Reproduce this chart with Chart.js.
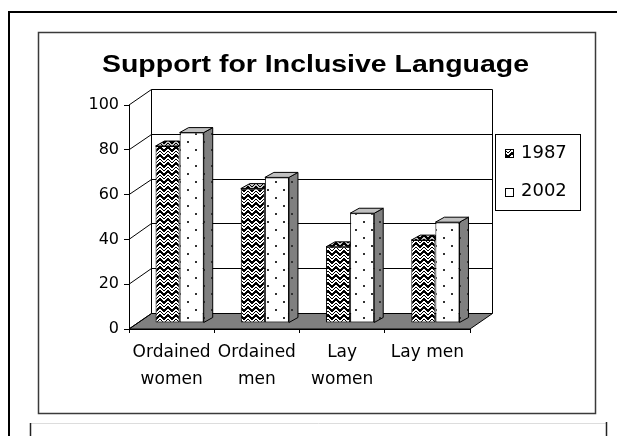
<!DOCTYPE html>
<html>
<head>
<meta charset="utf-8">
<script src="https://cdn.jsdelivr.net/npm/chart.js@4/dist/chart.umd.min.js"></script>
<style>
  html, body { margin: 0; padding: 0; background: #fff; overflow: hidden; }
  canvas { display: block; }
</style>
</head>
<body>
<canvas id="chart" width="617" height="436"></canvas>
<script>
// Chart data
const chartTitle = 'Support for Inclusive Language';
const categories = [['Ordained', 'women'], ['Ordained', 'men'], ['Lay', 'women'], 'Lay men'];
const seriesLabels = ['1987', '2002'];
const values1987 = [79, 60, 34, 37];
const values2002 = [85, 65, 49, 45];
const yMax = 100;
const yStep = 20;

// 3D look (oblique projection offsets)
const DEPTH = { x: 22, y: -16 };      // floor / side wall depth
const BAR_SHIFT = { x: 8, y: -6 };    // bars sit a bit behind the front edge
const BAR_DEPTH = { x: 9, y: -5 };    // thickness of each bar

const FONT = "'DejaVu Sans', sans-serif";
Chart.defaults.font.family = FONT;
Chart.defaults.color = '#000';

const canvas = document.getElementById('chart');
const mainCtx = canvas.getContext('2d');

// Excel-like fill patterns
function zigzagPattern(bg) {
    const c = document.createElement('canvas');
    c.width = 8; c.height = 8;
    const g = c.getContext('2d');
    g.fillStyle = bg;
    g.fillRect(0, 0, 8, 8);
    g.fillStyle = '#000';
    for (let x = 0; x < 8; x++) {
        const off = x < 4 ? x : 7 - x;
        for (let y = 0; y < 8; y++) {
            const k = ((y - off) % 8 + 8) % 8;
            if (k < 3 || k === 5) g.fillRect(x, y, 1, 1);
        }
    }
    return mainCtx.createPattern(c, 'repeat');
}

function dotPattern(bg) {
    const c = document.createElement('canvas');
    c.width = 16; c.height = 16;
    const g = c.getContext('2d');
    g.fillStyle = bg;
    g.fillRect(0, 0, 16, 16);
    g.fillStyle = '#333';
    g.fillRect(3, 3, 2, 2);
    g.fillRect(11, 11, 2, 2);
    return mainCtx.createPattern(c, 'repeat');
}

const fronts = [zigzagPattern('#fff'), dotPattern('#fff')];
const caps = [zigzagPattern('#c8c8c8'), '#c0c0c0'];
const sides = [zigzagPattern('#808080'), dotPattern('#808080')];

function crisp(v) {
    return Math.round(v) + 0.5;
}

function poly(ctx, pts) {
    ctx.beginPath();
    ctx.moveTo(pts[0][0], pts[0][1]);
    for (let i = 1; i < pts.length; i++) ctx.lineTo(pts[i][0], pts[i][1]);
    ctx.closePath();
    ctx.fill();
    ctx.stroke();
}

const excel3d = {
    id: 'excel3d',
    beforeDraw(chart) {
        const { ctx, chartArea: a } = chart;
        const y = chart.scales.y;
        ctx.save();
        ctx.fillStyle = '#fff';
        ctx.fillRect(0, 0, chart.width, chart.height);

        // page frames
        ctx.strokeStyle = '#000';
        ctx.lineWidth = 2;
        ctx.beginPath();
        ctx.moveTo(9, 436); ctx.lineTo(9, 12); ctx.lineTo(617, 12);
        ctx.stroke();
        ctx.strokeStyle = '#3a3a3a';
        ctx.lineWidth = 1.5;
        ctx.strokeRect(38.5, 32.5, 557, 381);
        ctx.strokeStyle = '#ddd';
        ctx.lineWidth = 1;
        ctx.beginPath();
        ctx.moveTo(31, 423.5); ctx.lineTo(606, 423.5);
        ctx.stroke();
        ctx.strokeStyle = '#222';
        ctx.lineWidth = 1.5;
        ctx.beginPath();
        ctx.moveTo(30.5, 436); ctx.lineTo(30.5, 423);
        ctx.moveTo(606.5, 436); ctx.lineTo(606.5, 422);
        ctx.stroke();

        // title, widened like the stretched original
        ctx.font = "bold 24px 'Liberation Sans', Arial, sans-serif";
        ctx.fillStyle = '#000';
        ctx.textBaseline = 'alphabetic';
        const tw = ctx.measureText(chartTitle).width;
        ctx.save();
        ctx.translate(102, 72);
        ctx.scale(427 / tw, 1);
        ctx.fillText(chartTitle, 0, 0);
        ctx.restore();

        // floor, back wall, side wall lines
        const y0 = y.getPixelForValue(0);
        const yT = y.getPixelForValue(yMax);
        const bl = crisp(a.left + DEPTH.x), br = crisp(a.right + DEPTH.x);
        ctx.lineWidth = 1;
        ctx.strokeStyle = '#000';
        ctx.fillStyle = '#808080';
        poly(ctx, [[a.left, y0], [bl, crisp(y0 + DEPTH.y)], [br, crisp(y0 + DEPTH.y)], [a.right, y0]]);
        ctx.beginPath();
        ctx.moveTo(bl, crisp(y0 + DEPTH.y)); ctx.lineTo(bl, crisp(yT + DEPTH.y));
        ctx.moveTo(br, crisp(y0 + DEPTH.y)); ctx.lineTo(br, crisp(yT + DEPTH.y));
        ctx.stroke();
        y.ticks.forEach(t => {
            const py = y.getPixelForValue(t.value);
            const by = crisp(py + DEPTH.y);
            ctx.beginPath();
            ctx.moveTo(a.left, py);
            ctx.lineTo(bl, by);
            if (t.value > 0) ctx.lineTo(br, by);
            ctx.stroke();
        });
        ctx.restore();
    },
    beforeDatasetsDraw(chart) {
        chart.ctx.save();
        chart.ctx.translate(BAR_SHIFT.x, BAR_SHIFT.y);
    },
    afterDatasetDraw(chart, args) {
        // datasets are drawn last-to-first, so a bar with a neighbour on its
        // right only shows the part of its top that the neighbour does not hide
        const ctx = chart.ctx;
        const i = args.index;
        const hidden = i < chart.data.datasets.length - 1;
        ctx.save();
        ctx.lineWidth = 1;
        ctx.strokeStyle = '#000';
        args.meta.data.forEach(bar => {
            const { x, y, base, width } = bar.getProps(['x', 'y', 'base', 'width'], true);
            const l = x - width / 2, r = x + width / 2;
            if (!hidden) {
                ctx.fillStyle = sides[i];
                poly(ctx, [[r, y], [r + BAR_DEPTH.x, y + BAR_DEPTH.y], [r + BAR_DEPTH.x, base + BAR_DEPTH.y], [r, base]]);
            }
            const rr = hidden ? r : r + BAR_DEPTH.x;
            ctx.fillStyle = caps[i];
            poly(ctx, [[l, y], [l + BAR_DEPTH.x, y + BAR_DEPTH.y], [rr, y + BAR_DEPTH.y], [r, y]]);
        });
        ctx.restore();
    },
    afterDatasetsDraw(chart) {
        chart.ctx.restore();
    },
    afterDraw(chart) {
        // boxed legend like the Excel original
        const ctx = chart.ctx;
        ctx.save();
        ctx.strokeStyle = '#000';
        ctx.lineWidth = 1;
        ctx.strokeRect(495.5, 134.5, 85, 76);
        ctx.font = '18px ' + FONT;
        ctx.textBaseline = 'middle';
        chart.data.datasets.forEach((ds, i) => {
            const cy = 153 + i * 38.5;
            ctx.fillStyle = ds.backgroundColor;
            ctx.fillRect(505, Math.round(cy) - 4, 8, 8);
            ctx.strokeRect(505.5, Math.round(cy) - 3.5, 8, 8);
            ctx.fillStyle = '#000';
            ctx.fillText(ds.label, 521, cy);
        });
        ctx.restore();
    }
};

new Chart(canvas, {
    type: 'bar',
    data: {
        labels: categories,
        datasets: [
            {
                label: seriesLabels[0],
                data: values1987,
                backgroundColor: fronts[0],
                borderColor: '#000',
                borderWidth: 1,
                borderSkipped: false,
                clip: false
            },
            {
                label: seriesLabels[1],
                data: values2002,
                backgroundColor: fronts[1],
                borderColor: '#000',
                borderWidth: 1,
                borderSkipped: false,
                clip: false
            }
        ]
    },
    options: {
        responsive: false,
        devicePixelRatio: 1,
        animation: false,
        layout: { padding: { left: 84, right: 147, top: 105, bottom: 37 } },
        datasets: { bar: { categoryPercentage: 0.565, barPercentage: 1.0 } },
        scales: {
            x: {
                grid: { drawOnChartArea: false, drawTicks: true, tickLength: 4, color: '#000' },
                border: { display: true, color: '#000' },
                ticks: {
                    color: '#000',
                    font: { size: 17, lineHeight: 1.6 },
                    padding: 6,
                    maxRotation: 0,
                    autoSkip: false
                },
                afterFit: s => { s.height = 70; }
            },
            y: {
                min: 0,
                max: yMax,
                grid: { drawOnChartArea: false, drawTicks: true, tickLength: 5, color: '#000' },
                border: { display: true, color: '#000' },
                ticks: { stepSize: yStep, color: '#000', font: { size: 16 }, padding: 5 },
                afterFit: s => { s.width = 45; }
            }
        },
        plugins: {
            title: { display: false },
            legend: { display: false },
            tooltip: { enabled: false }
        }
    },
    plugins: [excel3d]
});
</script>
</body>
</html>
